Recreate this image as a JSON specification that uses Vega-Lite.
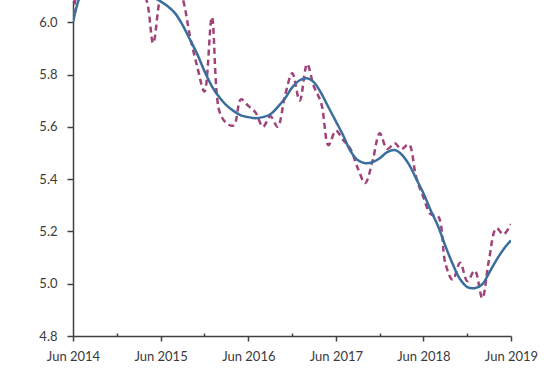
{
  "$schema": "https://vega.github.io/schema/vega-lite/v6.json",
  "width": 438,
  "height": 336,
  "autosize": "none",
  "padding": {"left": 73, "top": 0, "right": 42, "bottom": 34},
  "background": "white",
  "config": {
    "view": {"stroke": null},
    "axis": {
      "grid": false,
      "labelFont": "Lato",
      "labelFontSize": 13,
      "labelColor": "#3a3a3a",
      "domainColor": "#404040",
      "domainWidth": 1.5,
      "tickColor": "#404040",
      "tickWidth": 1.5,
      "title": null
    }
  },
  "data": {
    "values": [
      {"date": "2014-06-01", "trend": 6.0, "actual": 6.03},
      {"date": "2014-07-01", "trend": 6.1, "actual": 6.15},
      {"date": "2014-08-01", "trend": 6.14, "actual": 6.17},
      {"date": "2014-09-01", "trend": 6.15, "actual": 6.14},
      {"date": "2014-10-01", "trend": 6.16, "actual": 6.16},
      {"date": "2014-11-01", "trend": 6.16, "actual": 6.13},
      {"date": "2014-12-01", "trend": 6.16, "actual": 6.15},
      {"date": "2015-01-01", "trend": 6.15, "actual": 6.12},
      {"date": "2015-02-01", "trend": 6.14, "actual": 6.14},
      {"date": "2015-03-01", "trend": 6.12, "actual": 6.12},
      {"date": "2015-04-01", "trend": 6.11, "actual": 6.09},
      {"date": "2015-05-01", "trend": 6.095, "actual": 5.92},
      {"date": "2015-06-01", "trend": 6.08, "actual": 6.1},
      {"date": "2015-07-01", "trend": 6.061, "actual": 6.16},
      {"date": "2015-08-01", "trend": 6.034, "actual": 6.15},
      {"date": "2015-09-01", "trend": 5.989, "actual": 6.09},
      {"date": "2015-10-01", "trend": 5.935, "actual": 5.95},
      {"date": "2015-11-01", "trend": 5.878, "actual": 5.83},
      {"date": "2015-12-01", "trend": 5.813, "actual": 5.735},
      {"date": "2016-01-01", "trend": 5.755, "actual": 6.02},
      {"date": "2016-02-01", "trend": 5.713, "actual": 5.66},
      {"date": "2016-03-01", "trend": 5.683, "actual": 5.615},
      {"date": "2016-04-01", "trend": 5.66, "actual": 5.605},
      {"date": "2016-05-01", "trend": 5.644, "actual": 5.705},
      {"date": "2016-06-01", "trend": 5.637, "actual": 5.68},
      {"date": "2016-07-01", "trend": 5.633, "actual": 5.655},
      {"date": "2016-08-01", "trend": 5.637, "actual": 5.6},
      {"date": "2016-09-01", "trend": 5.648, "actual": 5.64},
      {"date": "2016-10-01", "trend": 5.675, "actual": 5.6},
      {"date": "2016-11-01", "trend": 5.709, "actual": 5.72},
      {"date": "2016-12-01", "trend": 5.751, "actual": 5.805},
      {"date": "2017-01-01", "trend": 5.778, "actual": 5.7},
      {"date": "2017-02-01", "trend": 5.786, "actual": 5.84},
      {"date": "2017-03-01", "trend": 5.771, "actual": 5.755},
      {"date": "2017-04-01", "trend": 5.728, "actual": 5.69},
      {"date": "2017-05-01", "trend": 5.675, "actual": 5.53},
      {"date": "2017-06-01", "trend": 5.621, "actual": 5.585},
      {"date": "2017-07-01", "trend": 5.568, "actual": 5.55},
      {"date": "2017-08-01", "trend": 5.507, "actual": 5.515},
      {"date": "2017-09-01", "trend": 5.472, "actual": 5.44},
      {"date": "2017-10-01", "trend": 5.461, "actual": 5.385},
      {"date": "2017-11-01", "trend": 5.465, "actual": 5.47},
      {"date": "2017-12-01", "trend": 5.48, "actual": 5.575},
      {"date": "2018-01-01", "trend": 5.503, "actual": 5.515},
      {"date": "2018-02-01", "trend": 5.511, "actual": 5.537},
      {"date": "2018-03-01", "trend": 5.495, "actual": 5.515},
      {"date": "2018-04-01", "trend": 5.457, "actual": 5.533},
      {"date": "2018-05-01", "trend": 5.403, "actual": 5.41},
      {"date": "2018-06-01", "trend": 5.346, "actual": 5.33},
      {"date": "2018-07-01", "trend": 5.281, "actual": 5.266},
      {"date": "2018-08-01", "trend": 5.22, "actual": 5.258},
      {"date": "2018-09-01", "trend": 5.143, "actual": 5.075},
      {"date": "2018-10-01", "trend": 5.075, "actual": 5.015},
      {"date": "2018-11-01", "trend": 5.017, "actual": 5.08},
      {"date": "2018-12-01", "trend": 4.987, "actual": 5.01},
      {"date": "2019-01-01", "trend": 4.983, "actual": 5.05},
      {"date": "2019-02-01", "trend": 4.998, "actual": 4.945},
      {"date": "2019-03-01", "trend": 5.04, "actual": 5.09},
      {"date": "2019-04-01", "trend": 5.09, "actual": 5.212},
      {"date": "2019-05-01", "trend": 5.132, "actual": 5.189},
      {"date": "2019-06-01", "trend": 5.166, "actual": 5.228}
    ]
  },
  "encoding": {
    "x": {
      "field": "date",
      "type": "temporal",
      "scale": {
        "type": "utc",
        "domain": [
          {"year": 2014, "month": 6, "date": 1, "utc": true},
          {"year": 2019, "month": 6, "date": 1, "utc": true}
        ]
      },
      "axis": {
        "values": [
          {"year": 2014, "month": 6, "date": 1, "utc": true},
          {"year": 2014, "month": 12, "date": 1, "utc": true},
          {"year": 2015, "month": 6, "date": 1, "utc": true},
          {"year": 2015, "month": 12, "date": 1, "utc": true},
          {"year": 2016, "month": 6, "date": 1, "utc": true},
          {"year": 2016, "month": 12, "date": 1, "utc": true},
          {"year": 2017, "month": 6, "date": 1, "utc": true},
          {"year": 2017, "month": 12, "date": 1, "utc": true},
          {"year": 2018, "month": 6, "date": 1, "utc": true},
          {"year": 2018, "month": 12, "date": 1, "utc": true},
          {"year": 2019, "month": 6, "date": 1, "utc": true}
        ],
        "labelExpr": "utcmonth(datum.value) == 5 ? utcFormat(datum.value, '%b %Y') : ''",
        "tickSize": {"condition": {"test": "utcmonth(datum.value) == 5", "value": 5}, "value": -3},
        "labelPadding": 9,
        "labelFlush": false,
        "labelOverlap": false
      }
    }
  },
  "layer": [
    {
      "mark": {"type": "line", "interpolate": "catmull-rom", "clip": true, "color": "#a0437a", "strokeWidth": 2.5, "strokeDash": [6, 4]},
      "encoding": {
        "y": {
          "field": "actual",
          "type": "quantitative",
          "scale": {"domain": [4.8, 6.085], "nice": false, "zero": false},
          "axis": {
            "values": [4.8, 4.9, 5.0, 5.1, 5.2, 5.3, 5.4, 5.5, 5.6, 5.7, 5.8, 5.9, 6.0],
            "labelExpr": "round(datum.value * 10) % 2 == 0 ? format(datum.value, '.1f') : ''",
            "tickSize": {"condition": {"test": "round(datum.value * 10) % 2 == 0", "value": 6}, "value": 3},
            "labelPadding": 10,
            "labelFlush": false,
            "labelOverlap": false
          }
        }
      }
    },
    {
      "mark": {"type": "line", "interpolate": "catmull-rom", "clip": true, "color": "#3b6e9e", "strokeWidth": 2.5},
      "encoding": {
        "y": {"field": "trend", "type": "quantitative"}
      }
    }
  ]
}
